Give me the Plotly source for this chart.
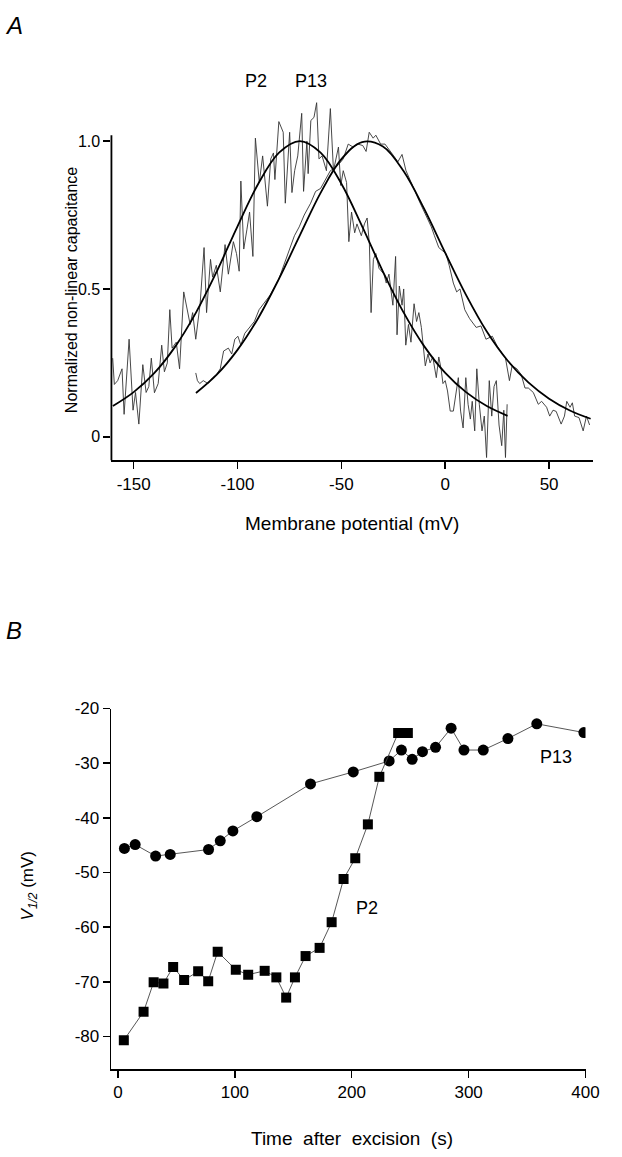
import plotly.graph_objects as go

W, H = 622, 1157
FONT = "Liberation Sans, Arial, Helvetica, sans-serif"

# ---------------- Panel A data ----------------
# P2 noisy trace: membrane potential (mV), normalized capacitance
p2_trace_v = [-160.1, -159.3, -157.7, -155.6, -154.6, -152.2, -150.3, -149.1, -147.5, -145.6,
              -144.0, -142.7, -141.5, -140.0, -138.2, -136.5, -135.2, -133.8, -132.6, -131.5,
              -129.5, -127.9, -125.9, -124.0, -122.8, -121.6, -120.1, -118.0, -116.1, -114.9,
              -113.0, -112.0, -110.2, -108.3, -106.0, -104.4, -102.0, -100.5, -99.2, -98.4,
              -97.0, -95.5, -94.2, -92.6, -91.4, -89.5, -87.9, -85.6, -84.0, -82.7,
              -82.0, -80.1, -78.0, -77.0, -74.9, -73.8, -72.5, -71.0, -69.1, -68.2,
              -66.6, -66.0, -64.7, -63.2, -61.9, -60.8, -59.3, -57.2, -55.3, -53.8,
              -51.4, -50.3, -49.1, -47.5, -46.4, -45.1, -43.6, -42.5, -40.4, -38.9,
              -37.6, -36.5, -35.7, -34.6, -33.4, -31.9, -29.5, -28.4, -27.1, -25.2,
              -23.9, -23.2, -22.1, -20.8, -20.0, -19.0, -17.7, -16.5, -15.0, -13.8,
              -12.7, -11.5, -10.7, -9.6, -8.3, -7.3, -6.0, -4.3, -3.1, -2.0,
              -1.1, 0.0, 1.1, 2.4, 3.9, 5.2, 6.3, 7.4, 8.6, 9.9,
              11.0, 12.1, 13.0, 14.2, 15.2, 16.4, 17.7, 18.8, 19.9, 21.2,
              22.4, 23.5, 24.6, 25.9, 27.2, 28.2, 29.0, 29.8]
p2_trace_c = [0.266, 0.177, 0.19, 0.23, 0.076, 0.33, 0.09, 0.15, 0.043, 0.244,
              0.15, 0.17, 0.266, 0.149, 0.18, 0.31, 0.22, 0.25, 0.43, 0.30,
              0.32, 0.23, 0.49, 0.42, 0.38, 0.42, 0.33, 0.45, 0.64, 0.42,
              0.60, 0.54, 0.58, 0.49, 0.65, 0.55, 0.66, 0.62, 0.56, 0.865,
              0.635, 0.70, 0.76, 0.61, 1.01, 0.86, 0.95, 0.78, 0.94, 0.96,
              0.87, 1.066, 1.03, 0.79, 1.03, 0.826, 0.90, 0.95, 1.094, 0.83,
              1.0, 0.89, 1.07, 1.08, 1.13, 0.94, 0.95, 0.90, 1.11, 0.90,
              0.98, 0.85, 0.90, 0.86, 0.66, 0.76, 0.69, 0.72, 0.68, 0.72,
              0.74, 0.65, 0.42, 0.60, 0.62, 0.57, 0.55, 0.52, 0.55, 0.445,
              0.61, 0.345, 0.51, 0.445, 0.50, 0.31, 0.38, 0.32, 0.45, 0.39,
              0.42, 0.37, 0.31, 0.24, 0.28, 0.25, 0.27, 0.20, 0.27, 0.23,
              0.18, 0.19, 0.155, 0.087, 0.087, 0.155, 0.20, 0.087, 0.03, 0.20,
              0.11, 0.06, 0.12, 0.02, 0.23, 0.11, 0.02, 0.07, -0.07, 0.19,
              0.07, 0.17, 0.19, 0.04, -0.03, 0.09, -0.07, 0.11]

# P13 noisy trace
p13_trace_v = [-120.1, -119.3, -118.2, -116.5, -114.2, -112.0, -110.2, -108.3, -106.7, -104.4,
               -102.8, -101.3, -99.8, -98.4, -96.5, -94.3, -91.9, -89.6, -86.5, -84.2,
               -80.3, -77.3, -75.0, -72.6, -70.3, -67.9, -64.8, -62.4, -60.0, -57.7,
               -55.3, -53.0, -51.4, -49.1, -46.7, -44.4, -42.0, -39.7, -38.1, -36.6,
               -34.7, -33.4, -31.1, -29.0, -27.1, -24.8, -22.8, -20.8, -18.9, -16.9,
               -14.5, -12.7, -10.7, -8.6, -6.7, -5.2, -3.1, 0.3, 1.9, 3.9,
               5.5, 7.1, 9.4, 11.7, 14.9, 17.2, 19.6, 22.7, 25.1, 26.6,
               29.0, 30.9, 32.2, 34.5, 36.6, 38.4, 40.0, 42.4, 44.8, 46.4,
               48.8, 50.3, 51.9, 53.4, 55.8, 57.4, 58.5, 60.1, 61.2, 62.3,
               64.4, 66.4, 68.0, 69.5]
p13_trace_c = [0.216, 0.19, 0.18, 0.19, 0.18, 0.20, 0.21, 0.23, 0.29, 0.30,
               0.28, 0.33, 0.34, 0.31, 0.35, 0.37, 0.39, 0.43, 0.46, 0.48,
               0.53, 0.59, 0.63, 0.68, 0.71, 0.75, 0.79, 0.83, 0.84, 0.87,
               0.90, 0.91, 0.92, 0.94, 0.99, 0.98, 0.99, 0.985, 0.965, 1.03,
               1.01, 1.02, 0.99, 0.99, 0.97, 0.95, 0.93, 0.955, 0.90, 0.87,
               0.83, 0.80, 0.77, 0.736, 0.71, 0.68, 0.64, 0.62, 0.58, 0.52,
               0.49, 0.50, 0.43, 0.40, 0.37, 0.375, 0.33, 0.34, 0.305, 0.29,
               0.266, 0.19, 0.24, 0.23, 0.21, 0.165, 0.165, 0.15, 0.11, 0.12,
               0.10, 0.07, 0.09, 0.086, 0.043, 0.07, 0.12, 0.10, 0.115, 0.07,
               0.065, 0.02, 0.07, 0.04]

# Fitted curves (read at 10 mV steps)
p2_fit_v = [-160, -150, -140, -130, -120, -110, -100, -90, -80, -70,
            -60, -50, -40, -30, -20, -10, 0, 10, 20, 30]
p2_fit_c = [0.104, 0.151, 0.216, 0.305, 0.420, 0.559, 0.712, 0.856, 0.961, 1.0,
            0.961, 0.856, 0.712, 0.559, 0.420, 0.305, 0.216, 0.151, 0.104, 0.071]
p13_fit_v = [-120, -110, -100, -90, -80, -70, -60, -50, -40, -30,
             -20, -10, 0, 10, 20, 30, 40, 50, 60, 70]
p13_fit_c = [0.148, 0.210, 0.294, 0.402, 0.535, 0.681, 0.825, 0.939, 0.997, 0.982,
             0.898, 0.769, 0.622, 0.480, 0.356, 0.258, 0.184, 0.129, 0.089, 0.061]

a_xticks = [-150, -100, -50, 0, 50]
a_yticks = [0, 0.5, 1.0]
a_yticklabels = ["0", "0.5", "1.0"]

# ---------------- Panel B data ----------------
p13_time = [5.5, 14.7, 32.2, 44.7, 77.5, 87.5, 98.3, 118.8, 164.7, 201.3,
            232.0, 242.5, 251.7, 260.5, 271.7, 285.0, 296.0, 312.5, 333.6, 358.3, 398.6]
p13_v12 = [-45.6, -44.9, -47.0, -46.7, -45.8, -44.2, -42.4, -39.8, -33.8, -31.6,
           -29.6, -27.6, -29.3, -27.9, -27.1, -23.6, -27.6, -27.6, -25.5, -22.8, -24.4]
p2_time = [5.0, 21.9, 30.5, 38.9, 47.2, 56.6, 68.6, 77.2, 85.3, 100.8,
           111.4, 125.5, 135.5, 143.9, 151.4, 160.5, 172.5, 182.8, 193.0, 203.0,
           213.8, 223.6, 239.7, 248.0]
p2_v12 = [-80.7, -75.5, -70.1, -70.3, -67.3, -69.7, -68.1, -69.9, -64.5, -67.8,
          -68.7, -68.0, -69.2, -72.9, -69.2, -65.3, -63.8, -59.1, -51.2, -47.4,
          -41.2, -32.5, -24.5, -24.5]

b_xticks = [0, 100, 200, 300, 400]
b_yticks = [-20, -30, -40, -50, -60, -70, -80]


def px(x):
    return x / W


def py(y):
    return 1 - y / H


fig = go.Figure()

# Panel A traces
fig.add_trace(go.Scatter(x=p2_trace_v, y=p2_trace_c, mode="lines",
                         line=dict(color="#333333", width=0.9), xaxis="x", yaxis="y",
                         showlegend=False, hoverinfo="skip"))
fig.add_trace(go.Scatter(x=p13_trace_v, y=p13_trace_c, mode="lines",
                         line=dict(color="#333333", width=0.9), xaxis="x", yaxis="y",
                         showlegend=False, hoverinfo="skip"))
fig.add_trace(go.Scatter(x=p2_fit_v, y=p2_fit_c, mode="lines", line_shape="spline",
                         line=dict(color="black", width=1.8), xaxis="x", yaxis="y",
                         showlegend=False))
fig.add_trace(go.Scatter(x=p13_fit_v, y=p13_fit_c, mode="lines", line_shape="spline",
                         line=dict(color="black", width=1.8), xaxis="x", yaxis="y",
                         showlegend=False))

# Panel B traces
fig.add_trace(go.Scatter(x=p13_time, y=p13_v12, mode="lines+markers",
                         line=dict(color="#444444", width=0.9),
                         marker=dict(symbol="circle", size=11, color="black"),
                         xaxis="x2", yaxis="y2", showlegend=False))
fig.add_trace(go.Scatter(x=p2_time, y=p2_v12, mode="lines+markers",
                         line=dict(color="#444444", width=0.9),
                         marker=dict(symbol="square", size=10, color="black"),
                         xaxis="x2", yaxis="y2", showlegend=False))

tickfont = dict(family=FONT, size=17, color="black")

fig.update_layout(
    width=W, height=H,
    margin=dict(l=0, r=0, t=0, b=0),
    paper_bgcolor="white", plot_bgcolor="white",
    hovermode=False,
    xaxis=dict(domain=[px(114), px(607)], range=[-160.7, 71.3], anchor="y",
               tickvals=a_xticks, ticktext=[str(t) for t in a_xticks],
               ticks="outside", ticklen=7, tickwidth=1.5, tickcolor="black",
               showline=True, linecolor="black", linewidth=1.8,
               showgrid=False, zeroline=False, tickfont=tickfont),
    yaxis=dict(domain=[py(455), py(82.5)], range=[-0.08, 1.17], anchor="x",
               tickvals=a_yticks, ticktext=a_yticklabels,
               ticks="outside", ticklen=7, tickwidth=1.5, tickcolor="black",
               showline=False, showgrid=False, zeroline=False,
               tickfont=dict(family=FONT, size=16, color="black")),
    xaxis2=dict(domain=[px(114), px(599)], range=[-5.6, 400], anchor="y2",
                tickvals=b_xticks, ticktext=[str(t) for t in b_xticks],
                ticks="outside", ticklen=7, tickwidth=1.5, tickcolor="black",
                showline=True, linecolor="black", linewidth=1.8,
                showgrid=False, zeroline=False, tickfont=tickfont),
    yaxis2=dict(domain=[py(1068.5), py(705)], range=[-86, -20], anchor="x2",
                tickvals=b_yticks, ticktext=[str(t) for t in b_yticks],
                ticks="outside", ticklen=7, tickwidth=1.5, tickcolor="black",
                showline=True, linecolor="black", linewidth=1.8,
                showgrid=False, zeroline=False, tickfont=tickfont),
)

# y-axis line of panel A (stops at 1.02, data extends above)
fig.add_shape(type="line", xref="x domain", yref="y", x0=0, x1=0, y0=-0.08, y1=1.02,
              line=dict(color="black", width=1.8))

ann = []


def add_text(text, x, y, size, angle=0, italic=False):
    if italic:
        text = "<i>" + text + "</i>"
    ann.append(dict(text=text, x=px(x), y=py(y), xref="paper", yref="paper",
                    showarrow=False, textangle=angle, xanchor="center", yanchor="middle",
                    font=dict(family=FONT, size=size, color="black")))


add_text("A", 14, 17, 24, italic=True)
add_text("B", 14, 626, 24, italic=True)
add_text("P2", 262, 73, 18)
add_text("P13", 318, 73, 18)
add_text("Normalized non-linear capacitance", 73, 283, 16, angle=-90)
add_text("Membrane potential (mV)", 360, 519, 19)
add_text("<i>V</i><sub><i>1/2</i></sub> (mV)", 30, 884, 17, angle=-90)
add_text("Time  after  excision  (s)", 360, 1138, 19)
add_text("P2", 375, 906, 18)
add_text("P13", 569, 754, 18)

fig.update_layout(annotations=ann)

fig.write_html("out.html",
               config={"displayModeBar": False, "staticPlot": True},
               post_script="document.body.style.margin='0';document.body.style.overflow='hidden';")
